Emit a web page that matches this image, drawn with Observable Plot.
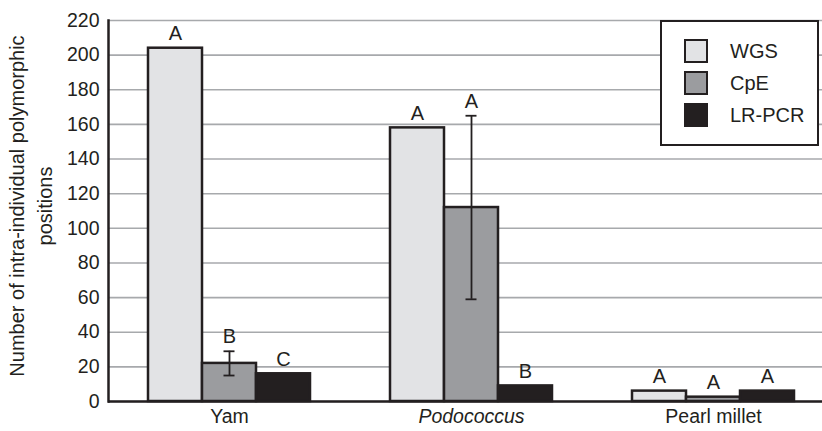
<!DOCTYPE html>
<html><head><meta charset="utf-8">
<script src="https://cdn.jsdelivr.net/npm/d3@7"></script>
<script src="https://cdn.jsdelivr.net/npm/@observablehq/plot@0.6"></script>
<style>
html,body{margin:0;background:#fff;font-family:"Liberation Sans",Arial,sans-serif;overflow:hidden;}
#wrap{position:relative;width:822px;height:431px;overflow:hidden;}
#wrap svg{position:absolute;left:0;top:0;max-width:none !important;}
#ylab{position:absolute;left:-169px;top:178px;width:400px;height:56px;line-height:28px;font-size:20px;text-align:center;color:#231f20;transform:rotate(-90deg);transform-origin:50% 50%;}
#legend{position:absolute;left:660px;top:20px;width:155px;height:122px;border:2.5px solid #231f20;background:#fff;box-sizing:content-box;}
.lrow{position:absolute;left:22px;height:24px;display:flex;align-items:center;font-size:20px;color:#231f20;}
.sw{width:20px;height:20px;border:2.5px solid #231f20;margin-right:22px;}
</style>
</head><body>
<div id="wrap"></div>
<script>
const groups = ["Yam", "Podococcus", "Pearl millet"];
const series = ["WGS", "CpE", "LR-PCR"];
const colors = ["#e2e3e5", "#9b9c9f", "#231f20"];
const wgs = [204, 158, 6];
const cpe = [22, 112, 2.5];
const lrpcr = [16, 9, 6];
const cpeErr = [7, 53, 0];
const wgsLetters = ["A", "A", "A"];
const cpeLetters = ["B", "A", "A"];
const lrpcrLetters = ["C", "B", "A"];
const yTicks = [0, 20, 40, 60, 80, 100, 120, 140, 160, 180, 200, 220];
const yTitle = ["Number of intra-individual polymorphic", "positions"];

const rows = [];
groups.forEach((g, i) => {
  rows.push({group: g, series: "WGS", value: wgs[i], err: 0, letter: wgsLetters[i]});
  rows.push({group: g, series: "CpE", value: cpe[i], err: cpeErr[i], letter: cpeLetters[i]});
  rows.push({group: g, series: "LR-PCR", value: lrpcr[i], err: 0, letter: lrpcrLetters[i]});
});
const errRows = rows.filter(d => d.err > 0);
const ink = "#231f20";

const chart = Plot.plot({
  width: 834, height: 431,
  marginLeft: 108, marginRight: 0, marginTop: 20, marginBottom: 30,
  style: {fontFamily: "Liberation Sans, Arial, sans-serif", color: ink, background: "transparent", maxWidth: "none"},
  fx: {domain: groups, padding: 0, label: null},
  x: {domain: series, paddingInner: 0, paddingOuter: 0.74, axis: null},
  y: {domain: [0, 220]},
  color: {domain: series, range: colors},
  marks: [
    Plot.gridY(yTicks, {stroke: "#a7a9ac", strokeOpacity: 1, strokeWidth: 1.6}),
    Plot.barY(rows, {fx: "group", x: "series", y: "value", fill: "series", stroke: ink, strokeWidth: 2.5}),
    Plot.ruleX(errRows, {fx: "group", x: "series", y1: d => d.value - d.err, y2: d => d.value + d.err, stroke: ink, strokeWidth: 1.8}),
    Plot.tickY(errRows, {fx: "group", x: "series", y: d => d.value - d.err, stroke: ink, strokeWidth: 1.8, insetLeft: 21.5, insetRight: 21.5}),
    Plot.tickY(errRows, {fx: "group", x: "series", y: d => d.value + d.err, stroke: ink, strokeWidth: 1.8, insetLeft: 21.5, insetRight: 21.5}),
    Plot.text(rows, {fx: "group", x: "series", y: d => d.value + d.err, text: "letter", lineAnchor: "bottom", dy: -8, fontSize: 20, fill: ink}),
    Plot.ruleY([0], {stroke: ink, strokeWidth: 2.5}),
    Plot.frame({anchor: "left", facetAnchor: "left", stroke: ink, strokeWidth: 2.5}),
    Plot.axisY({ticks: yTicks, tickSize: 0, tickPadding: 9, fontSize: 19.5, label: null}),
    Plot.axisFx({anchor: "bottom", tickSize: 0, tickPadding: 8, fontSize: 19.5, label: null})
  ]
});

const wrap = document.getElementById("wrap");
wrap.appendChild(chart);
d3.select(chart).selectAll("text").filter(function(){ return this.textContent === "Podococcus"; }).attr("font-style", "italic");

const ylab = document.createElement("div");
ylab.id = "ylab";
ylab.innerHTML = yTitle.join("<br>");
wrap.appendChild(ylab);

const legend = document.createElement("div");
legend.id = "legend";
series.forEach((s, i) => {
  const r = document.createElement("div");
  r.className = "lrow";
  r.style.top = (17 + i * 32) + "px";
  r.innerHTML = `<div class="sw" style="background:${colors[i]}"></div><span>${s}</span>`;
  legend.appendChild(r);
});
wrap.appendChild(legend);
</script>
</body></html>
